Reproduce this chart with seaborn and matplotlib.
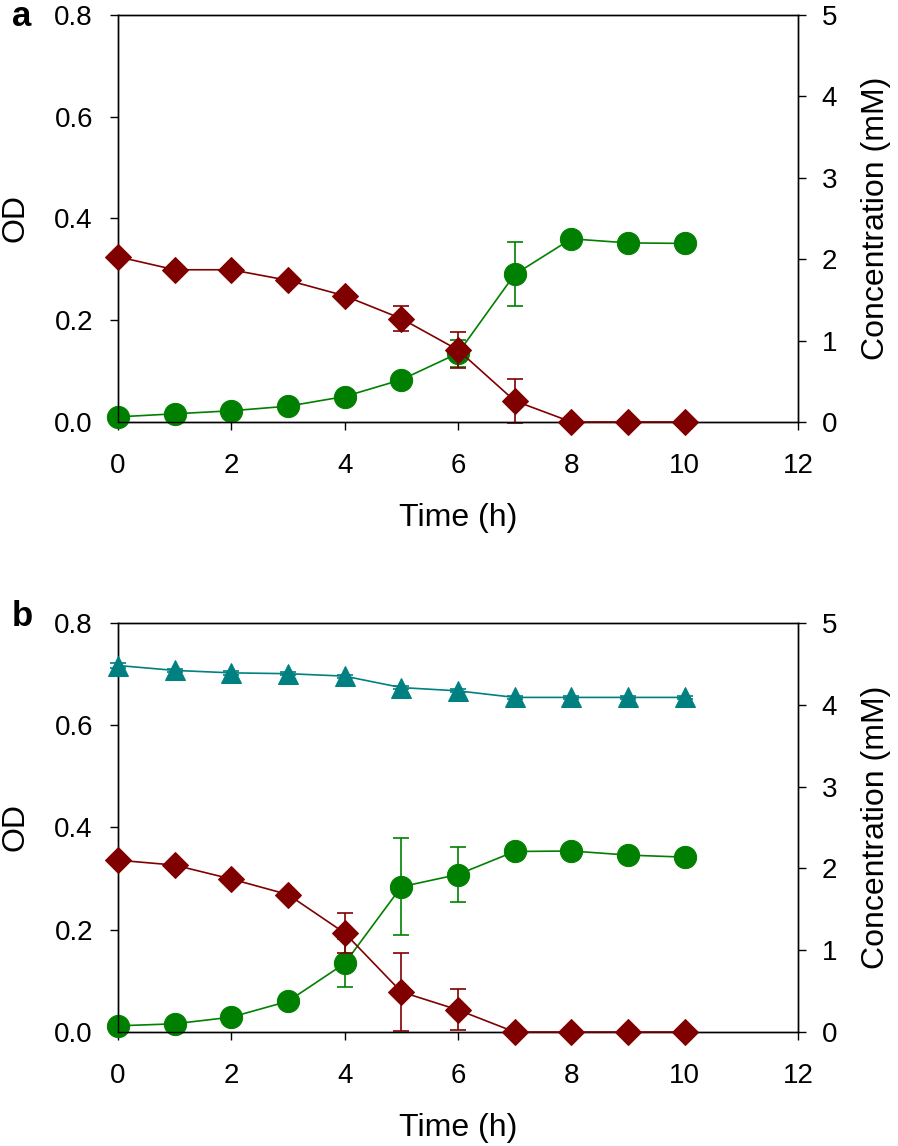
import numpy as np
import pandas as pd
import matplotlib
matplotlib.use("Agg")
import matplotlib.pyplot as plt
import seaborn as sns

# time points (h)
time_h = [0, 1, 2, 3, 4, 5, 6, 7, 8, 9, 10]

# panel a
a_od = [0.010, 0.016, 0.022, 0.031, 0.050, 0.083, 0.135, 0.290, 0.360, 0.352, 0.351]
a_od_err = [0, 0, 0, 0, 0, 0, 0.026, 0.063, 0, 0, 0]
a_sub = [2.03, 1.87, 1.87, 1.74, 1.55, 1.27, 0.885, 0.26, 0.0, 0.0, 0.0]
a_sub_err = [0, 0, 0, 0, 0, 0.15, 0.22, 0.27, 0, 0, 0]

# panel b
b_od = [0.012, 0.016, 0.029, 0.060, 0.134, 0.284, 0.308, 0.353, 0.354, 0.346, 0.342]
b_od_err = [0, 0, 0, 0, 0.047, 0.095, 0.054, 0, 0, 0, 0]
b_sub = [2.10, 2.04, 1.87, 1.68, 1.21, 0.49, 0.27, 0.0, 0.0, 0.0, 0.0]
b_sub_err = [0, 0, 0, 0, 0.25, 0.48, 0.25, 0, 0, 0, 0]
b_tri = [4.48, 4.42, 4.39, 4.38, 4.35, 4.21, 4.17, 4.09, 4.09, 4.09, 4.09]
b_tri_err = [0.03, 0.02, 0.02, 0.02, 0.02, 0.02, 0.02, 0.02, 0.02, 0.02, 0.02]

GREEN = "#008000"
RED = "#800000"
TEAL = "#008080"

sns.set_theme(style="ticks")
plt.rcParams['font.family'] = ['Liberation Sans', 'DejaVu Sans']
plt.rcParams['text.color'] = 'black'
plt.rcParams['axes.labelcolor'] = 'black'
plt.rcParams['axes.edgecolor'] = 'black'
plt.rcParams['xtick.color'] = 'black'
plt.rcParams['ytick.color'] = 'black'
plt.rcParams['axes.linewidth'] = 1.0
plt.rcParams['xtick.major.width'] = 1.0
plt.rcParams['ytick.major.width'] = 1.0
plt.rcParams['xtick.major.size'] = 5.5
plt.rcParams['ytick.major.size'] = 6

fig = plt.figure(figsize=(8.98, 11.46), dpi=100)
ax_a = fig.add_axes([0.1314, 0.6318, 0.7572, 0.3551])
ax_b = fig.add_axes([0.1314, 0.0995, 0.7572, 0.3569])


def draw_series(ax, y, err, color, marker, ms):
    df = pd.DataFrame({"t": time_h, "v": y})
    sns.lineplot(data=df, x="t", y="v", ax=ax, color=color, marker=marker,
                 markersize=ms, markeredgecolor=color, linewidth=1.2,
                 clip_on=False, zorder=3)
    e = np.array(err)
    mask = e > 0
    ax.errorbar(np.array(time_h)[mask], np.array(y)[mask], yerr=e[mask], fmt="none",
                ecolor=color, elinewidth=1.2, capsize=6, capthick=1.2,
                clip_on=False, zorder=2)


def setup(ax, label, label_y):
    ax2 = ax.twinx()
    ax.set_xlim(0, 12)
    ax.set_ylim(0, 0.8)
    ax2.set_ylim(0, 5)
    ax.set_xticks(range(0, 13, 2))
    ax.set_yticks([0.0, 0.2, 0.4, 0.6, 0.8])
    ax.set_yticklabels(["0.0", "0.2", "0.4", "0.6", "0.8"])
    ax2.set_yticks(range(0, 6))
    ax.tick_params(axis="x", labelsize=20, direction="out", pad=17)
    ax.tick_params(axis="y", labelsize=20, direction="out", pad=12)
    ax2.tick_params(axis="y", labelsize=20, direction="out", pad=11)
    for a in (ax, ax2):
        for s in a.spines.values():
            s.set_visible(True)
    ax.set_zorder(ax2.get_zorder() - 1)
    ax.patch.set_visible(False)
    ax2.patch.set_visible(False)
    ax.text(-0.141, label_y, label, transform=ax.transAxes, fontsize=25,
            fontweight="bold", ha="center", va="baseline")
    return ax2


ax2a = setup(ax_a, "a", 0.973)
draw_series(ax_a, a_od, a_od_err, GREEN, "o", 16)
draw_series(ax2a, a_sub, a_sub_err, RED, "D", 13)

ax2b = setup(ax_b, "b", 0.993)
draw_series(ax_b, b_od, b_od_err, GREEN, "o", 16)
draw_series(ax2b, b_sub, b_sub_err, RED, "D", 13)
draw_series(ax2b, b_tri, b_tri_err, TEAL, "^", 14)

# seaborn resets the axis labels, so set them after drawing
for a in (ax_a, ax_b):
    a.set_xlabel("Time (h)", fontsize=23, labelpad=17)
    a.set_ylabel("OD", fontsize=23, labelpad=17)
for a in (ax2a, ax2b):
    a.set_xlabel("")
    a.set_ylabel("Concentration (mM)", fontsize=23, labelpad=17)

fig.savefig("out.png", dpi=100, facecolor="white")
